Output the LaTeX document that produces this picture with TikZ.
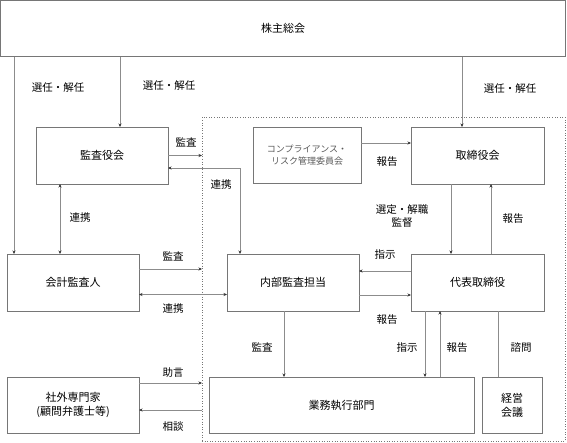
\documentclass[tikz,border=0pt]{standalone}
\usepackage{fontspec}
\setmainfont{Noto Sans CJK JP}
\usetikzlibrary{arrows.meta}
\definecolor{boxc}{RGB}{118,118,118}
\definecolor{linec}{RGB}{140,140,140}
\definecolor{compc}{RGB}{90,90,90}
\begin{document}
\begin{tikzpicture}[x=1pt,y=-1pt,
  box/.style={draw=boxc,line width=0.8pt,minimum width=#1,inner sep=0pt,outer sep=0pt,font=\fontsize{11}{14}\selectfont,align=center},
  arr/.style={draw=linec,line width=0.7pt,-{Stealth[length=3.5pt,width=3pt,color=black!80]}},
  darr/.style={draw=linec,line width=0.7pt,{Stealth[length=3.5pt,width=3pt,color=black!80]}-{Stealth[length=3.5pt,width=3pt,color=black!80]}},
  plain/.style={draw=linec,line width=0.7pt},
  lbl/.style={font=\fontsize{10.5}{13}\selectfont,inner sep=0pt,align=center}]
\useasboundingbox (0,0) rectangle (567,442);
% dotted group
\node[draw=boxc,dotted,line width=0.6pt,minimum width=363pt,minimum height=324pt,inner sep=0pt,outer sep=0pt] (grp) at (383.5,279) {};
% boxes
\node[box=565pt,minimum height=56pt] (kabu) at (283,28.5) {株主総会};
\node[box=132pt,minimum height=57pt] (kansa) at (102,155.5) {監査役会};
\node[box=108pt,minimum height=56pt,text=compc,font=\fontsize{9}{12}\selectfont] (comp) at (307,155) {コンプライアンス・\\リスク管理委員会};
\node[box=133pt,minimum height=57pt] (tori) at (477.5,155.5) {取締役会};
\node[box=132pt,minimum height=57pt] (kaikei) at (73,282.5) {会計監査人};
\node[box=132pt,minimum height=57pt] (naibu) at (293,282.5) {内部監査担当};
\node[box=133pt,minimum height=57pt] (daihyo) at (477.5,282.5) {代表取締役};
\node[box=132pt,minimum height=56pt] (shagai) at (73,405) {社外専門家\\(顧問弁護士等)};
\node[box=265pt,minimum height=56pt] (gyomu) at (341.5,405) {業務執行部門};
\node[box=60pt,minimum height=56pt] (keiei) at (512,405) {経営\\会議};
% helper coordinates
\coordinate (x14) at (14,0);
\coordinate (x60) at (60,0);
\coordinate (x120) at (120,0);
\coordinate (x240) at (240,0);
\coordinate (x284) at (284,0);
\coordinate (x425) at (425,0);
\coordinate (x440) at (440,0);
\coordinate (x451) at (451,0);
\coordinate (x462) at (462,0);
\coordinate (x491) at (491,0);
\coordinate (x498) at (498,0);
\coordinate (y410) at (0,410);
% connectors
\draw[arr] (kabu.south -| x14) -- (kaikei.north -| x14);
\draw[arr] (kabu.south -| x120) -- (kansa.north -| x120);
\draw[arr] (kabu.south -| x462) -- (tori.north -| x462);
\draw[arr] (kansa.east) -- (grp.west |- kansa.east);
\draw[darr] ([yshift=-12.5pt]kansa.east) -| (naibu.north -| x240);
\draw[darr] (kansa.south -| x60) -- (kaikei.north -| x60);
\draw[arr] ([yshift=13.5pt]kaikei.east) coordinate (k1) -- (grp.west |- k1);
\draw[darr] ([yshift=-12pt]kaikei.east) coordinate (k2) -- (naibu.west |- k2);
\draw[arr] ([yshift=12pt]comp.east) coordinate (c1) -- (tori.west |- c1);
\draw[arr] (tori.south -| x451) -- (daihyo.north -| x451);
\draw[arr] (daihyo.north -| x491) -- (tori.south -| x491);
\draw[arr] ([yshift=11.5pt]daihyo.west) coordinate (d1) -- (naibu.east |- d1);
\draw[arr] ([yshift=-12.5pt]naibu.east) coordinate (n1) -- (daihyo.west |- n1);
\draw[arr] (naibu.south -| x284) -- (gyomu.north -| x284);
\draw[arr] (daihyo.south -| x425) -- (gyomu.north -| x425);
\draw[arr] (gyomu.north -| x440) -- (daihyo.south -| x440);
\draw[plain] (daihyo.south -| x498) -- (keiei.north -| x498);
\draw[arr] ([yshift=22pt]shagai.east) coordinate (s1) -- (grp.west |- s1);
\draw[arr] (grp.west |- y410) -- (shagai.east |- y410);
% labels
\node[lbl] (l1) at (58,88) {選任・解任};
\node[lbl] (l2) at (169,86) {選任・解任};
\node[lbl] (l3) at (510,89) {選任・解任};
\node[lbl] (l4) at (186,142) {監査};
\node[lbl] (l5) at (221,185) {連携};
\node[lbl] (l6) at (80,218) {連携};
\node[lbl] (l7) at (173,256) {監査};
\node[lbl] (l8) at (173,309) {連携};
\node[lbl] (l9) at (387,162) {報告};
\node[lbl] (l10) at (402,216.5) {選定・解職\\監督};
\node[lbl] (l11) at (513,219) {報告};
\node[lbl] (l12) at (385,255) {指示};
\node[lbl] (l13) at (387,320) {報告};
\node[lbl] (l14) at (262,347) {監査};
\node[lbl] (l15) at (407,348) {指示};
\node[lbl] (l16) at (457,348) {報告};
\node[lbl] (l17) at (521,348) {諮問};
\node[lbl] (l18) at (173,373) {助言};
\node[lbl] (l19) at (173,427) {相談};
\end{tikzpicture}
\end{document}
